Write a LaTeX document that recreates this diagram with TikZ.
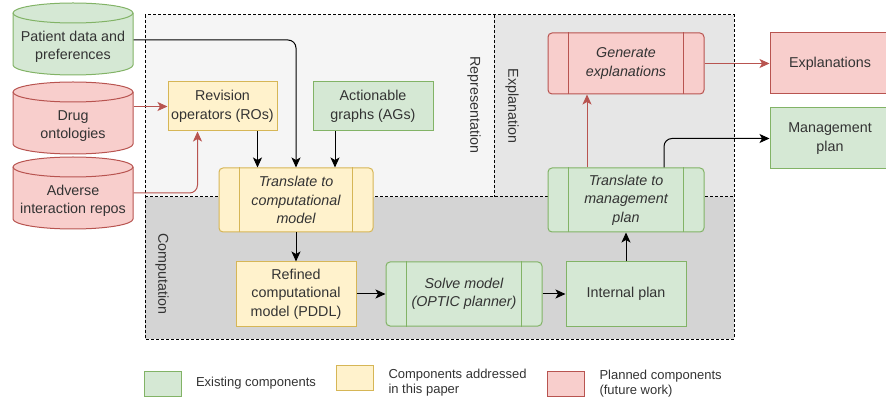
\documentclass[tikz,border=0pt]{standalone}
\usepackage{fontspec}
\setmainfont{Liberation Sans}
\usetikzlibrary{positioning, arrows.meta}
\tikzset{>={Stealth[length=10pt, width=9pt, inset=2.5pt]}}
\definecolor{gfill}{HTML}{D5E8D4}
\definecolor{gline}{HTML}{82B366}
\definecolor{yfill}{HTML}{FFF2CC}
\definecolor{yline}{HTML}{D6B656}
\definecolor{rfill}{HTML}{F8CECC}
\definecolor{rline}{HTML}{B85450}
\definecolor{crep}{HTML}{F5F5F5}
\definecolor{cexp}{HTML}{E6E6E6}
\definecolor{ccomp}{HTML}{D4D4D4}
\definecolor{ctxt}{HTML}{333333}
\newcommand*{\drum}[4]{%
    \begin{scope}[shift={(#2)}]
        \filldraw[fill=#3fill, draw=#3line](-60, 10)--(-60, 62)arc[start angle=180, end angle=360, x radius=60pt, y radius=10pt]--(60, 10)arc[start angle=0, end angle=180, x radius=60pt, y radius=10pt]--cycle;
        \draw[#3line](-60, 10)arc[start angle=180, end angle=360, x radius=60pt, y radius=10pt];
        \node[box, draw=none, minimum width=120, minimum height=56](#1)at(0, 44){#4};
    \end{scope}}
\newcommand*{\bars}[2]{\draw[#2]([xshift=21]#1.north west)--([xshift=21]#1.south west)([xshift=-21]#1.north east)--([xshift=-21]#1.south east);}
\tikzset{
    box/.style={draw, align=center, inner sep=0, text=ctxt, font=\fontsize{14.3}{18.5}\selectfont},
    gbox/.style={box, fill=gfill, draw=gline},
    ybox/.style={box, fill=yfill, draw=yline},
    rbox/.style={box, fill=rfill, draw=rline},
    proc/.style={rounded corners=4, font=\fontsize{14.3}{18.5}\selectfont\itshape},
    zone/.style={dash pattern=on 3pt off 2pt},
    zonelabel/.style={rotate=-90, inner sep=0, text=ctxt, font=\fontsize{14.3}{18.5}\selectfont},
    key/.style={draw, minimum width=37, minimum height=25},
    keytext/.style={align=left, inner sep=0, text=ctxt, font=\fontsize{13}{15.5}\selectfont},
    rarrow/.style={->, color=rline}}

\begin{document}
\begin{tikzpicture}[x=1pt, y=-1pt, line width=1pt]
    \useasboundingbox(0, 0)rectangle(886, 403);
    \fill[crep](145, 15)rectangle(494, 197);
    \fill[cexp](494, 15)rectangle(734, 197);
    \fill[ccomp](145, 197)rectangle(734, 339);
    \draw[zone](145, 15)rectangle(734, 339);
    \draw[zone](494, 15)--(494, 197);
    \draw[zone](145, 197)--(734, 197);
    \node[zonelabel](rep)at(474, 105){Representation};
    \node[zonelabel](exp)at(512, 106){Explanation};
    \node[zonelabel](comp)at(162, 274){Computation};
    \drum{pat}{73, 3}{g}{Patient data and\\preferences}
    \drum{drug}{73, 82}{r}{Drug\\ontologies}
    \drum{adv}{73, 157}{r}{Adverse\\interaction repos}
    \node[ybox, minimum width=109, minimum height=49](ros)at(222.5, 106.5){Revision\\operators (ROs)};
    \node[gbox, minimum width=120, minimum height=49](ags)at(373, 106.5){Actionable\\graphs (AGs)};
    \node[ybox, proc, minimum width=154, minimum height=64](tc)at(296, 200){Translate to\\computational\\model};
    \bars{tc}{yline}
    \node[ybox, minimum width=120, minimum height=64](ref)at(296, 294){Refined\\computational\\model (PDDL)};
    \node[gbox, proc, minimum width=156, minimum height=64](solve)at(464, 294){Solve model\\(OPTIC planner)};
    \bars{solve}{gline}
    \node[gbox, minimum width=120, minimum height=64](ip)at(626, 294){Internal plan};
    \node[gbox, proc, minimum width=156, minimum height=64](tm)at(626, 200){Translate to\\management\\plan};
    \bars{tm}{gline}
    \node[rbox, proc, minimum width=156, minimum height=61](ge)at(626, 63.5){Generate\\explanations};
    \bars{ge}{rline}
    \node[rbox, minimum width=120, minimum height=61](expl)at(830, 63.5){Explanations};
    \node[gbox, minimum width=120, minimum height=61](mp)at(830, 138.5){Management\\plan};
    \draw[->, rounded corners=8]([yshift=7]pat.east)-|(tc.north);
    \draw[->]([xshift=35]ros.south)--([xshift=35]ros.south|-tc.north);
    \draw[->]([xshift=-38]ags.south)--([xshift=-38]ags.south|-tc.north);
    \draw[rarrow](drug.east|-ros.west)--(ros.west);
    \draw[rarrow, rounded corners=8]([yshift=8]adv.east)-|([xshift=-25]ros.south);
    \draw[->](tc.south)--(ref.north);
    \draw[->](ref.east)--(solve.west);
    \draw[->](solve.east)--(ip.west);
    \draw[->](ip.north)--(tm.south);
    \draw[rarrow]([xshift=-39]tm.north)--([xshift=-39]ge.south);
    \draw[rarrow](ge.east)--(expl.west);
    \draw[->, rounded corners=8]([xshift=38]tm.north)|-(mp.west);
    \node[key, fill=gfill, draw=gline](kg)at(162.5, 383.5){};
    \node[keytext, right=14 of kg](kgt){Existing components};
    \node[key, fill=yfill, draw=yline](ky)at(355, 377.5){};
    \node[keytext, right=14 of ky, yshift=-5](kyt){Components addressed\\in this paper};
    \node[key, fill=rfill, draw=rline](kr)at(566, 383.5){};
    \node[keytext, right=14 of kr](krt){Planned components\\(future work)};
\end{tikzpicture}
\end{document}
